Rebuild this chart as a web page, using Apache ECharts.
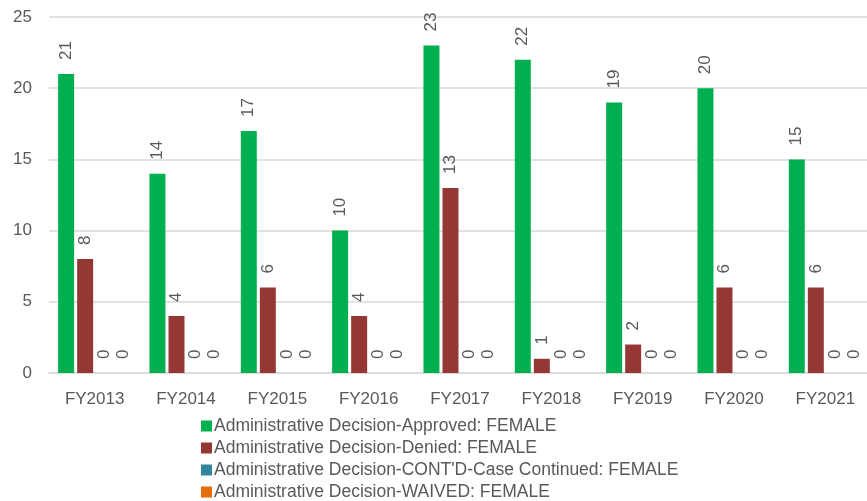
<!DOCTYPE html>
<html>
<head>
<meta charset="utf-8">
<script src="https://cdn.jsdelivr.net/npm/echarts@6/dist/echarts.min.js"></script>
<style>
  html, body { margin: 0; padding: 0; background: #fff; overflow: hidden; }
  #chart { width: 871px; height: 501px; }
</style>
</head>
<body>
<div id="chart"></div>
<script>
const years = ["FY2013", "FY2014", "FY2015", "FY2016", "FY2017", "FY2018", "FY2019", "FY2020", "FY2021"];
const approved = [21, 14, 17, 10, 23, 22, 19, 20, 15];
const denied = [8, 4, 6, 4, 13, 1, 2, 6, 6];
const continued = [0, 0, 0, 0, 0, 0, 0, 0, 0];
const waived = [0, 0, 0, 0, 0, 0, 0, 0, 0];
const yTicks = [0, 5, 10, 15, 20, 25];

const FONT = "Liberation Sans";
const TXT = "#595959";
const FS = 17;

function bar(name, data, color) {
  return {
    name: name,
    type: "bar",
    data: data,
    barGap: "19%",
    barCategoryGap: "20%",
    itemStyle: { color: color },
    label: {
      show: true,
      position: "top",
      rotate: 90,
      align: "left",
      verticalAlign: "middle",
      distance: 14,
      color: TXT,
      fontFamily: FONT,
      fontSize: FS
    }
  };
}

const chart = echarts.init(document.getElementById("chart"));
chart.setOption({
  animation: false,
  textStyle: { fontFamily: FONT },
  grid: { left: 49, right: 0, top: 17, bottom: 128 },
  legend: {
    orient: "vertical",
    left: 196,
    top: 412,
    height: 95,
    itemWidth: 11,
    itemHeight: 11,
    itemGap: 4,
    icon: "rect",
    textStyle: { color: TXT, fontSize: 17.5, fontFamily: FONT, padding: [0, 0, 0, -3] }
  },
  xAxis: {
    type: "category",
    data: years,
    axisLine: { show: true, lineStyle: { color: "#d9d9d9", width: 1.5 } },
    axisTick: { show: false },
    axisLabel: { color: TXT, fontSize: FS, fontFamily: FONT, margin: 18 }
  },
  yAxis: {
    type: "value",
    min: yTicks[0],
    max: yTicks[yTicks.length - 1],
    interval: 5,
    axisLine: { show: false },
    axisTick: { show: false },
    splitLine: { lineStyle: { color: "#d9d9d9", width: 1.5 } },
    axisLabel: { color: TXT, fontSize: FS, fontFamily: FONT, margin: 17 }
  },
  series: [
    bar("Administrative Decision-Approved: FEMALE", approved, "#00B050"),
    bar("Administrative Decision-Denied: FEMALE", denied, "#953735"),
    bar("Administrative Decision-CONT'D-Case Continued: FEMALE", continued, "#31859C"),
    bar("Administrative Decision-WAIVED: FEMALE", waived, "#E46C0A")
  ]
});
</script>
</body>
</html>
